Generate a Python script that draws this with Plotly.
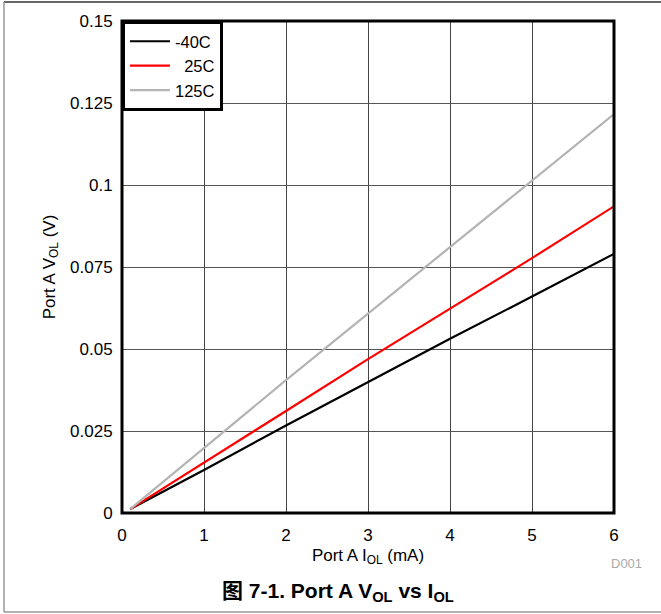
import plotly.graph_objects as go

current_ma = [0.1, 1, 2, 3, 4, 5, 6]
vol_m40 = [0.0012, 0.0131, 0.0267, 0.0400, 0.0531, 0.0660, 0.0790]
vol_25 = [0.0012, 0.0153, 0.0311, 0.0469, 0.0623, 0.0777, 0.0935]
vol_125 = [0.0012, 0.0199, 0.0405, 0.0608, 0.0810, 0.1013, 0.1216]
series_names = ["-40C", "\u00a0\u00a025C", "125C"]
series_colors = ["#000000", "#ff0000", "#b4b4b4"]

FONT = "Liberation Sans, Arial, Noto Sans CJK SC, sans-serif"

fig = go.Figure()
for name, ys, col in zip(series_names, [vol_m40, vol_25, vol_125], series_colors):
    fig.add_trace(go.Scatter(x=current_ma, y=ys, mode="lines", name=name,
                             line=dict(color=col, width=2.2)))

W, H = 661, 614
L, R, T, B = 122, 47, 21, 101
pw, ph = W - L - R, H - T - B

def px(x):
    return (x - L) / pw

def py(y):
    return (H - B - y) / ph

fig.update_layout(
    width=W, height=H,
    margin=dict(l=L, r=R, t=T, b=B),
    paper_bgcolor="white", plot_bgcolor="white",
    font=dict(family=FONT, size=17, color="#000"),
    showlegend=True,
    legend=dict(x=0, y=1, xanchor="left", yanchor="top",
                bgcolor="white", bordercolor="#000", borderwidth=3,
                font=dict(size=16.5), tracegroupgap=0, itemwidth=40),
    xaxis=dict(range=[0, 6], dtick=1, showgrid=True, gridcolor="#444", gridwidth=1,
               zeroline=False, showline=False, ticks="outside", ticklen=7, tickcolor="white",
               tickfont=dict(size=17),
               title=dict(text="Port A I<sub>OL</sub> (mA)", standoff=4, font=dict(size=17))),
    yaxis=dict(range=[0, 0.15], dtick=0.025, showgrid=True, gridcolor="#555", gridwidth=1,
               zeroline=False, showline=False, ticks="outside", ticklen=5, tickcolor="white",
               tickfont=dict(size=17),
               title=dict(text="Port A V<sub>OL</sub> (V)", standoff=10, font=dict(size=17))),
)

# plot frame
fig.add_shape(type="rect", xref="paper", yref="paper", x0=0, y0=0, x1=1, y1=1,
              line=dict(color="#000", width=3), layer="above")
# figure border lines
fig.add_shape(type="line", xref="paper", yref="paper", x0=px(4), x1=px(662), y0=py(2), y1=py(2),
              line=dict(color="#333", width=1.5))
fig.add_shape(type="line", xref="paper", yref="paper", x0=px(4), x1=px(4), y0=py(2), y1=py(612),
              line=dict(color="#999", width=1.5))
fig.add_shape(type="line", xref="paper", yref="paper", x0=px(4), x1=px(662), y0=py(612), y1=py(612),
              line=dict(color="#999", width=1.5))

fig.add_annotation(xref="paper", yref="paper", x=px(626), y=py(563), text="D001",
                   xanchor="center", yanchor="middle",
                   showarrow=False, font=dict(size=13, color="#aaaaaa"))
fig.add_annotation(xref="paper", yref="paper", x=px(338), y=py(592),
                   xanchor="center", yanchor="middle",
                   text="<b>图 7-1. Port A V<sub>OL</sub> vs I<sub>OL</sub></b>",
                   showarrow=False, font=dict(size=21, color="#000"))

fig.write_html("out.html", config={"displayModeBar": False},
               post_script="document.body.style.margin='0px';")
